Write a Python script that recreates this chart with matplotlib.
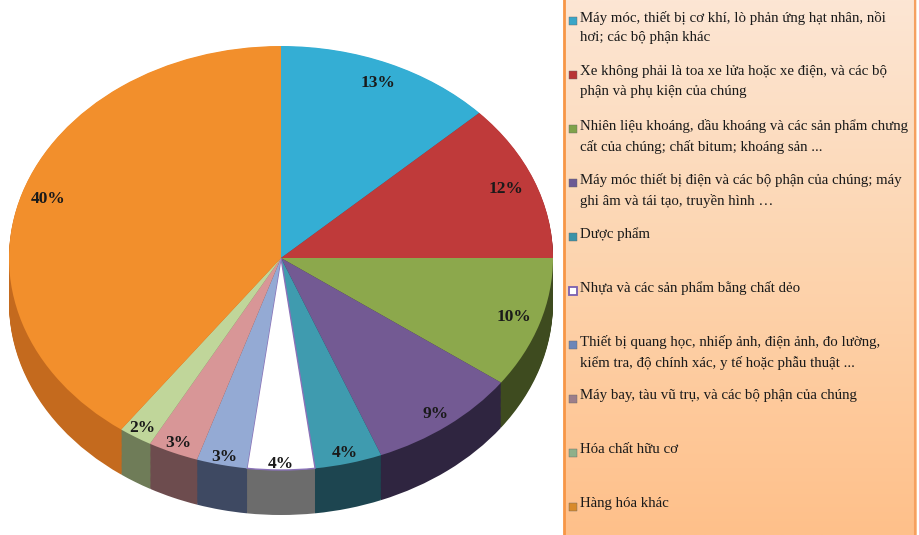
import numpy as np
import matplotlib
matplotlib.use("Agg")
import matplotlib.pyplot as plt
from matplotlib.colors import LinearSegmentedColormap

categories = [
    "Máy móc, thiết bị cơ khí, lò phản ứng hạt nhân, nồi\nhơi; các bộ phận khác",
    "Xe không phải là toa xe lửa hoặc xe điện, và các bộ\nphận và phụ kiện của chúng",
    "Nhiên liệu khoáng, dầu khoáng và các sản phẩm chưng\ncất của chúng; chất bitum; khoáng sản ...",
    "Máy móc thiết bị điện và các bộ phận của chúng; máy\nghi âm và tái tạo, truyền hình …",
    "Dược phẩm",
    "Nhựa và các sản phẩm bằng chất dẻo",
    "Thiết bị quang học, nhiếp ảnh, điện ảnh, đo lường,\nkiểm tra, độ chính xác, y tế hoặc phẫu thuật ...",
    "Máy bay, tàu vũ trụ, và các bộ phận của chúng",
    "Hóa chất hữu cơ",
    "Hàng hóa khác",
]
values = [13, 12, 10, 9, 4, 4, 3, 3, 2, 40]
pct_labels = ["13%", "12%", "10%", "9%", "4%", "4%", "3%", "3%", "2%", "40%"]

top_colors = ["#34AED4", "#BF3A3A", "#8CA84C", "#735A93", "#3F9BAF",
              "#FFFFFF", "#94AAD4", "#D89697", "#C0D69A", "#F28F2C"]
side_colors = ["#1F6E88", "#7A2224", "#3E4B1F", "#2F2540", "#1D4550",
               "#6C6C6C", "#3E4962", "#6D4C4E", "#6F7C58", "#C46A1E"]
legend_marker_colors = ["#3AA6C8", "#B83434", "#7FA24A", "#6C5A94", "#3A93A8",
                        "#FFFFFF", "#6C86B8", "#9C7E8A", "#8FB08A", "#D88A2A"]
label_r = [0.90, 0.89, 0.90, 0.93, 0.95, 0.97, 0.96, 0.95, 0.95, 0.90]

W, H = 920, 535
fig = plt.figure(figsize=(W / 100, H / 100), dpi=100)
fig.patch.set_facecolor("white")

# ---- legend panel background ----
lx0, lx1 = 564, 917
lax = fig.add_axes([lx0 / W, 0, (lx1 - lx0) / W, 1])
cmap = LinearSegmentedColormap.from_list("peach", ["#FCE6D4", "#FDD4AE", "#FFC08A"])
grad = np.linspace(0, 1, 256).reshape(-1, 1)
lax.imshow(grad, aspect="auto", cmap=cmap, extent=[0, 1, 0, 1], origin="upper")
lax.set_xlim(0, 1)
lax.set_ylim(0, 1)
lax.set_xticks([])
lax.set_yticks([])
for s in ["top", "bottom", "right"]:
    lax.spines[s].set_visible(False)
lax.spines["left"].set_color("#F79646")
lax.spines["left"].set_linewidth(2)
lax.plot([0.995, 0.995], [0, 1], color="#F5A060", lw=1.5, transform=lax.transAxes)

# ---- pie ----
cx_px, cy_px = 281, 258
rx_px, ry_px = 272, 212
depth_px = 45
ax = fig.add_axes([0, 0, 560 / W, 1])

depth = depth_px / ry_px
for t in np.linspace(depth, 0.003, 40):
    ax.pie(values, center=(0, -t), radius=1, colors=side_colors, startangle=90,
           counterclock=False, wedgeprops=dict(linewidth=0.6, edgecolor=None),
           frame=True)
wedges, _ = ax.pie(values, center=(0, 0), radius=1, colors=top_colors, startangle=90,
                   counterclock=False, wedgeprops=dict(linewidth=0), frame=True)
wedges[5].set_edgecolor("#8A72B8")
wedges[5].set_linewidth(1.0)
ax.set_aspect("auto")
ax.set_xlim(-cx_px / rx_px, (560 - cx_px) / rx_px)
ax.set_ylim(-(H - cy_px) / ry_px, cy_px / ry_px)
ax.axis("off")

for w, lab, r in zip(wedges, pct_labels, label_r):
    mid = np.deg2rad((w.theta1 + w.theta2) / 2)
    ax.text(r * np.cos(mid), r * np.sin(mid), lab, ha="center", va="center",
            fontsize=12.5, fontweight="bold", family="Liberation Serif", color="#1a1a1a")

# ---- legend entries ----
y0 = 11
step = 54
for i, (cat, mc) in enumerate(zip(categories, legend_marker_colors)):
    ytop = y0 + i * step
    fig.text(580 / W, 1 - ytop / H, cat, ha="left", va="top", fontsize=10.7,
             family="Liberation Serif", color="#1a1a1a", linespacing=1.65)
    ec = "#7A5FB0" if i == 5 else "#666666"
    lw = 1.3 if i == 5 else 0.3
    fig.patches.append(plt.Rectangle((569 / W, 1 - (ytop + 14) / H), 8 / W, 8 / H,
                                     transform=fig.transFigure, facecolor=mc,
                                     edgecolor=ec, linewidth=lw))

fig.savefig("out.png", dpi=100)
